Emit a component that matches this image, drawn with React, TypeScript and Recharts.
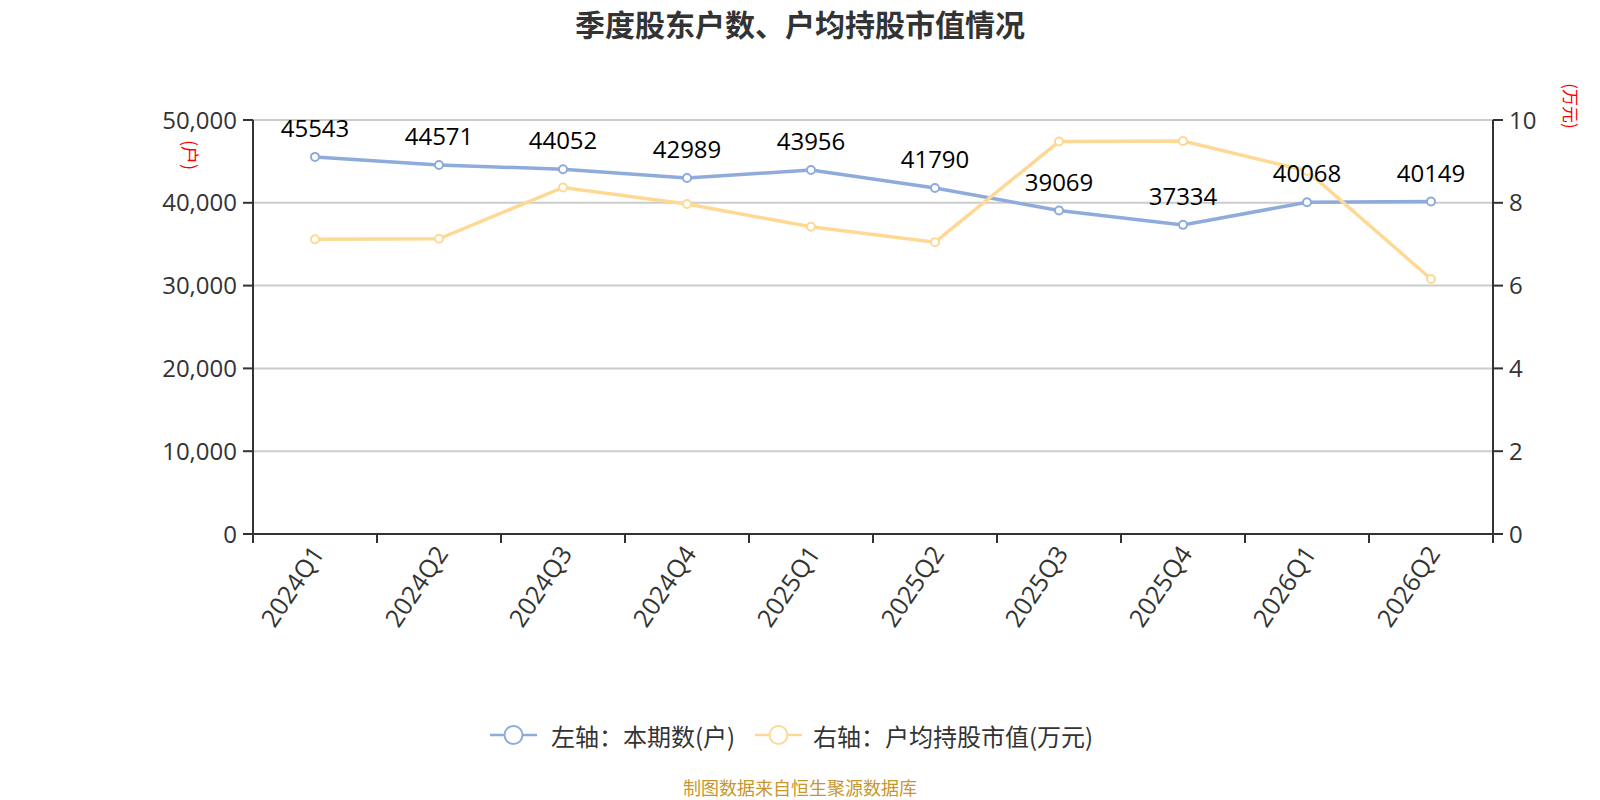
import React from 'react';
import { LineChart, Line, XAxis, YAxis, CartesianGrid, LabelList } from 'recharts';

const quarters = ['2024Q1', '2024Q2', '2024Q3', '2024Q4', '2025Q1', '2025Q2', '2025Q3', '2025Q4', '2026Q1', '2026Q2'];
const holders = [45543, 44571, 44052, 42989, 43956, 41790, 39069, 37334, 40068, 40149];
const avgValue = [7.12, 7.13, 8.37, 7.97, 7.42, 7.05, 9.48, 9.49, 8.77, 6.16];
const leftTicks = [0, 10000, 20000, 30000, 40000, 50000];
const rightTicks = [0, 2, 4, 6, 8, 10];

const TITLE = '季度股东户数、户均持股市值情况';
const LEGEND_LEFT = '左轴：本期数(户)';
const LEGEND_RIGHT = '右轴：户均持股市值(万元)';
const SOURCE = '制图数据来自恒生聚源数据库';
const UNIT_LEFT = '(户)';
const UNIT_RIGHT = '(万元)';

const data = quarters.map((q, i) => ({ q, holders: holders[i], avg: avgValue[i] }));

const W = 1600;
const H = 800;
const PLOT_LEFT = 253;
const PLOT_RIGHT = 1493;
const PLOT_TOP = 120;
const PLOT_BOTTOM = 534;
const Y_LEFT_W = 100;
const Y_RIGHT_W = 60;
const X_H = 100;
const HALF_BAND = (PLOT_RIGHT - PLOT_LEFT) / quarters.length / 2;

const BLUE = '#8EABDB';
const ORANGE = '#FDD995';
const AXIS = '#333333';
const FONT = "'Open Sans', 'Noto Sans CJK SC', sans-serif";
const CJK = "'Noto Sans CJK SC', 'Open Sans', sans-serif";

const XTick = (props: any) => {
  const { x, payload, index } = props;
  const axisY = PLOT_BOTTOM;
  const ty = axisY + 14;
  return (
    <g>
      <line x1={x - HALF_BAND} x2={x - HALF_BAND} y1={axisY} y2={axisY + 9} stroke={AXIS} strokeWidth={2} />
      {index === quarters.length - 1 && (
        <line x1={x + HALF_BAND} x2={x + HALF_BAND} y1={axisY} y2={axisY + 9} stroke={AXIS} strokeWidth={2} />
      )}
      <text
        x={x + 2}
        y={ty}
        textAnchor="end"
        dominantBaseline="central"
        transform={`rotate(-56, ${x + 2}, ${ty})`}
        fontSize={25}
        fontFamily={FONT}
        fill={AXIS}
      >
        {payload.value}
      </text>
    </g>
  );
};

const renderLabel = (props: any) => {
  const { x, y, value } = props;
  return (
    <text x={x} y={y - 20} textAnchor="middle" fontSize={24} fontFamily={FONT} fill="#000">
      {value}
    </text>
  );
};

export default function App() {
  return (
    <div style={{ position: 'absolute', left: 0, top: 0, width: W, height: H, background: '#fff' }}>
      <LineChart
        width={W}
        height={H}
        data={data}
        margin={{
          top: PLOT_TOP,
          bottom: H - PLOT_BOTTOM - X_H,
          left: PLOT_LEFT - Y_LEFT_W,
          right: W - PLOT_RIGHT - Y_RIGHT_W,
        }}
      >
        <CartesianGrid yAxisId="left" vertical={false} stroke="#cccccc" strokeWidth={2} />
        <XAxis
          dataKey="q"
          height={X_H}
          interval={0}
          padding={{ left: HALF_BAND, right: HALF_BAND }}
          axisLine={{ stroke: AXIS, strokeWidth: 2 }}
          tickLine={false}
          tickSize={0}
          tickMargin={0}
          tick={<XTick />}
        />
        <YAxis
          yAxisId="left"
          width={Y_LEFT_W}
          domain={[0, 50000]}
          ticks={leftTicks}
          interval={0}
          tickFormatter={(v: number) => v.toLocaleString('en-US')}
          axisLine={{ stroke: AXIS, strokeWidth: 2 }}
          tickLine={{ stroke: AXIS, strokeWidth: 2 }}
          tickSize={10}
          tickMargin={6}
          tick={{ fill: AXIS, fontSize: 24, fontFamily: FONT }}
        />
        <YAxis
          yAxisId="right"
          orientation="right"
          width={Y_RIGHT_W}
          domain={[0, 10]}
          ticks={rightTicks}
          interval={0}
          axisLine={{ stroke: AXIS, strokeWidth: 2 }}
          tickLine={{ stroke: AXIS, strokeWidth: 2 }}
          tickSize={10}
          tickMargin={6}
          tick={{ fill: AXIS, fontSize: 24, fontFamily: FONT }}
        />
        <Line
          yAxisId="left"
          dataKey="holders"
          stroke={BLUE}
          strokeWidth={3.5}
          dot={{ r: 4, fill: '#fff', stroke: BLUE, strokeWidth: 2 }}
          activeDot={false}
          isAnimationActive={false}
        />
        <Line
          yAxisId="right"
          dataKey="avg"
          stroke={ORANGE}
          strokeWidth={3.5}
          dot={{ r: 4, fill: '#fff', stroke: ORANGE, strokeWidth: 2 }}
          activeDot={false}
          isAnimationActive={false}
        />
        <Line
          yAxisId="left"
          dataKey="holders"
          stroke="none"
          dot={false}
          activeDot={false}
          isAnimationActive={false}
        >
          <LabelList dataKey="holders" content={renderLabel} />
        </Line>
      </LineChart>
      <svg
        width={W}
        height={H}
        style={{ position: 'absolute', left: 0, top: 0, pointerEvents: 'none' }}
      >
        <text x={800} y={23} textAnchor="middle" dominantBaseline="central" fontSize={30} fontWeight="bold" fontFamily={CJK} fill="#333">
          {TITLE}
        </text>
        <text x={191} y={155} textAnchor="middle" dominantBaseline="central" fontSize={18} fontFamily={CJK} fill="#ff0000" transform="rotate(90, 191, 155)">
          {UNIT_LEFT}
        </text>
        <text x={1571} y={106} textAnchor="middle" dominantBaseline="central" fontSize={17} fontFamily={CJK} fill="#ff0000" transform="rotate(90, 1571, 106)">
          {UNIT_RIGHT}
        </text>
        <line x1={490} x2={537} y1={735} y2={735} stroke={BLUE} strokeWidth={2.5} />
        <circle cx={513.5} cy={735} r={9} fill="#fff" stroke={BLUE} strokeWidth={2} />
        <text x={551} y={735} dominantBaseline="central" fontSize={24} fontFamily={CJK} fill="#333">
          {LEGEND_LEFT}
        </text>
        <line x1={755} x2={802} y1={735} y2={735} stroke={ORANGE} strokeWidth={2.5} />
        <circle cx={778.5} cy={735} r={9} fill="#fff" stroke={ORANGE} strokeWidth={2} />
        <text x={813} y={735} dominantBaseline="central" fontSize={24} fontFamily={CJK} fill="#333">
          {LEGEND_RIGHT}
        </text>
        <text x={800} y={787} textAnchor="middle" dominantBaseline="central" fontSize={18} fontFamily={CJK} fill="#C9962E">
          {SOURCE}
        </text>
      </svg>
    </div>
  );
}
